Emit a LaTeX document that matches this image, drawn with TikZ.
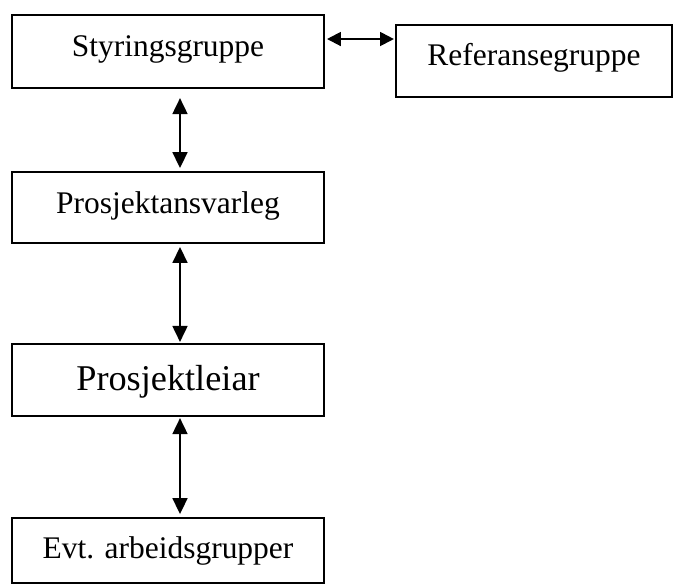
\documentclass[tikz,border=0pt]{standalone}
\usepackage{fontspec}
\setmainfont{Liberation Serif}
\usetikzlibrary{arrows.meta}
\tikzset{
  box/.style={draw, line width=0.75pt, rectangle, inner sep=0pt, align=center,
    font=\fontsize{11.8}{14}\selectfont},
  arr/.style={line width=0.75pt, {Triangle[length=6pt,width=5.6pt]}-{Triangle[length=6pt,width=5.6pt]}},
  harr/.style={line width=0.75pt, {Triangle[length=5.2pt,width=5.2pt]}-{Triangle[length=5.2pt,width=5.2pt]}}
}
\begin{document}
\begin{tikzpicture}[x=0.375pt,y=-0.375pt]
\useasboundingbox (0,0) rectangle (673,585);
\node[box, minimum width=117pt, text height=15.375pt, text depth=12pt] (s) at (168,51.5) {Styringsgruppe};
\node[box, minimum width=103.5pt, text height=15pt, text depth=12pt] (r) at (534,61) {Referansegruppe};
\node[box, minimum width=117pt, text height=15.375pt, text depth=11.25pt] (pa) at (168,207.5) {Prosjektansvarleg};
\node[box, minimum width=117pt, text height=17.25pt, text depth=9.75pt, font=\fontsize{13.6}{16}\selectfont] (pl) at (168,380) {Prosjektleiar};
\node[box, minimum width=117pt, text height=15pt, text depth=9.375pt] (ev) at (168,550.5) {Evt. arbeidsgrupper};
\draw[harr, shorten <=0.75pt, shorten >=0.4pt] (s.east |- 0,39) -- (r.west |- 0,39);
\draw[arr, shorten <=3.4pt, shorten >=1.1pt] ([xshift=4.5pt]s.south) -- ([xshift=4.5pt]pa.north);
\draw[arr, shorten <=1.1pt, shorten >=0.4pt] ([xshift=4.5pt]pa.south) -- ([xshift=4.5pt]pl.north);
\draw[arr, shorten <=0.4pt, shorten >=1.1pt] ([xshift=4.5pt]pl.south) -- ([xshift=4.5pt]ev.north);
\end{tikzpicture}
\end{document}
